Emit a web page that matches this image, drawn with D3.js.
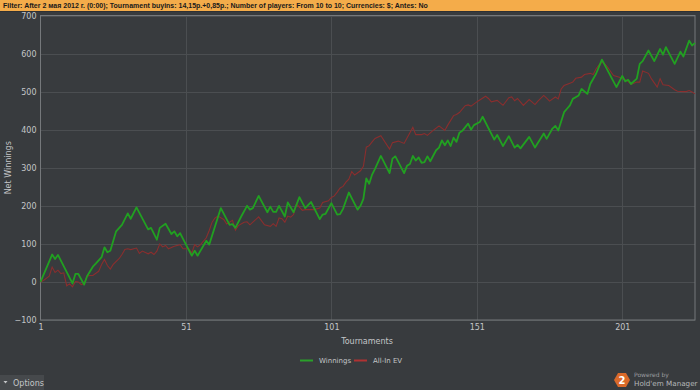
<!DOCTYPE html>
<html><head><meta charset="utf-8">
<script src="https://cdn.jsdelivr.net/npm/d3@7"></script>
<style>
html,body{margin:0;padding:0;background:#383b3e;}
svg{display:block;font-family:"DejaVu Sans",sans-serif;}
</style></head>
<body>
<script>
// ---- data (vertices) ----
const winT = [1,5,6,7,12,13,14,16,17,19,20,22,23,24,25,27,29,31,32,34,38,39,41,42,44,46,47,48,49,50,53,54,55,58,59,63,66,67,68,70,72,73,74,76,79,80,81,82,83,85,86,88,90,92,94,97,98,99,101,103,104,105,107,110,111,112,113,114,115,116,118,121,122,123,126,127,128,129,130,131,132,133,134,135,137,138,139,140,141,142,143,144,145,146,148,149,150,152,153,157,158,160,162,164,165,166,169,171,174,175,177,178,179,181,182,183,184,186,187,189,190,192,194,199,201,202,203,204,206,207,208,210,212,214,215,216,219,221,222,224,225,226];
const winV = [0,72,60,71,-4,21,21,-7,15,40,48,65,91,78,82,133,150,180,166,196,138,142,111,142,153,126,133,120,128,113,69,82,69,108,98,194,150,152,142,172,200,190,194,226,183,198,184,184,200,172,209,183,223,194,210,165,177,179,207,177,178,192,235,190,200,218,272,258,282,297,331,286,324,330,286,305,310,331,319,327,313,315,330,317,346,353,372,359,372,357,379,368,392,397,416,400,412,420,434,374,386,357,383,353,360,351,381,353,390,376,403,410,398,446,455,464,481,490,507,494,520,547,584,512,541,527,531,520,534,573,580,608,580,612,597,617,573,605,592,634,621,628];
const evT = [1,2,4,5,6,7,8,9,10,11,12,13,14,15,16,17,18,19,21,22,23,24,25,26,28,29,30,31,32,34,35,36,38,39,40,41,42,43,44,45,47,49,50,52,53,54,55,56,58,59,60,61,62,64,65,67,68,69,71,72,73,76,78,80,81,82,83,84,85,86,87,88,89,91,92,95,97,98,100,101,102,103,104,105,106,107,108,109,111,112,113,114,115,116,118,121,122,124,126,127,129,130,132,133,134,136,138,140,141,143,144,145,147,148,149,151,152,154,155,156,158,160,162,163,164,165,167,169,171,172,174,175,176,178,179,180,181,183,184,185,187,188,190,191,192,193,194,195,196,197,198,200,202,203,204,206,207,208,210,211,213,214,215,217,219,220,222,223,224,225,226];
const evV = [0,4,15,39,25,31,22,24,-10,-5,-13,1,0,-7,-4,15,17,17,28,46,59,43,34,46,61,72,85,87,85,89,75,81,74,78,72,81,100,92,96,87,94,98,87,87,76,98,92,98,116,135,157,168,173,164,152,162,136,148,157,158,150,171,150,146,153,146,168,166,157,173,170,177,205,188,190,190,194,209,213,222,226,236,247,251,262,270,290,281,292,304,354,358,368,377,384,349,366,370,364,378,406,387,387,390,385,398,410,398,412,437,440,445,463,465,462,473,478,488,482,473,477,464,484,486,476,482,464,479,466,475,490,483,475,486,481,507,516,522,525,535,538,545,548,545,560,570,577,573,564,553,542,538,531,527,519,525,525,554,548,534,512,534,518,516,505,501,500,500,503,499,494];
const seriesNames = ["Winnings","All-In EV"];
const xTicks = [1,51,101,151,201];
const yTicks = [-100,0,100,200,300,400,500,600,700];
const filterText = "Filter: After 2 мая 2012 г. (0:00); Tournament buyins: 14,15р.+0,85р.; Number of players: From 10 to 10; Currencies: $; Antes: No";

const W = 700, H = 390;
const m = {l:40.5, r:5, t:15.5, b:70};
const svg = d3.select("body").append("svg").attr("width",W).attr("height",H);
svg.append("rect").attr("width",W).attr("height",H).attr("fill","#383b3e");

// filter bar
svg.append("rect").attr("x",0).attr("y",0).attr("width",W).attr("height",11).attr("fill","#f4ac4a");
svg.append("rect").attr("x",0).attr("y",11).attr("width",W).attr("height",1).attr("fill","#2e3033");
svg.append("text").attr("x",3).attr("y",8.3).attr("font-size",7.0).attr("font-weight","bold")
  .attr("font-family","'Liberation Sans',sans-serif").attr("fill","#1a1a1a").text(filterText);

const x = d3.scaleLinear().domain([1,226]).range([m.l, W-m.r]);
const y = d3.scaleLinear().domain([-100,700]).range([H-m.b, m.t]);

// grid
const g = svg.append("g");
g.selectAll(".hg").data(yTicks).join("line")
  .attr("x1",m.l).attr("x2",W-m.r).attr("y1",d=>Math.round(y(d))+0.5).attr("y2",d=>Math.round(y(d))+0.5)
  .attr("stroke","#4b4e51").attr("stroke-width",1);
g.selectAll(".vg").data(xTicks.slice(1)).join("line")
  .attr("y1",m.t).attr("y2",H-m.b).attr("x1",d=>Math.round(x(d))+0.5).attr("x2",d=>Math.round(x(d))+0.5)
  .attr("stroke","#4b4e51").attr("stroke-width",1);
// border
svg.append("rect").attr("x",m.l).attr("y",m.t).attr("width",W-m.r-m.l).attr("height",H-m.b-m.t)
  .attr("fill","none").attr("stroke","#75787b").attr("stroke-width",1);

// axes
const yAxis = svg.append("g").attr("transform",`translate(${m.l},0)`)
  .call(d3.axisLeft(y).tickValues(yTicks).tickSize(0).tickPadding(4));
const xAxis = svg.append("g").attr("transform",`translate(0,${H-m.b})`)
  .call(d3.axisBottom(x).tickValues(xTicks).tickSize(0).tickPadding(4));
[yAxis,xAxis].forEach(a=>{
  a.select(".domain").remove();
  a.selectAll("text").attr("fill","#c4c6c8").attr("font-size",8).attr("font-family","'DejaVu Sans',sans-serif");
});

svg.append("text").attr("transform",`translate(11,${(m.t+H-m.b)/2}) rotate(-90)`).attr("text-anchor","middle")
  .attr("font-size",8).attr("fill","#c4c6c8").text("Net Winnings");
svg.append("text").attr("x",367).attr("y",344).attr("text-anchor","middle")
  .attr("font-size",8).attr("fill","#c4c6c8").text("Tournaments");

// lines
const line = d3.line().x(d=>x(d[0])).y(d=>y(d[1]));
const evData = d3.zip(evT, evV);
const winData = d3.zip(winT, winV);
svg.append("path").datum(evData).attr("d",line).attr("fill","none").attr("stroke","#8a2e2e").attr("stroke-width",1.1);
svg.append("path").datum(winData).attr("d",line).attr("fill","none").attr("stroke","#21a021").attr("stroke-width",1.8).attr("stroke-linejoin","round");

// legend
const legend = [{n:seriesNames[0],c:"#2aa02a",x:300},{n:seriesNames[1],c:"#b03232",x:354}];
legend.forEach(l=>{
  svg.append("line").attr("x1",l.x).attr("x2",l.x+13).attr("y1",360.5).attr("y2",360.5).attr("stroke",l.c).attr("stroke-width",2);
  svg.append("text").attr("x",l.x+19).attr("y",363).attr("font-size",7).attr("fill","#c4c6c8").text(l.n);
});

// options button
svg.append("rect").attr("x",0).attr("y",375).attr("width",44).attr("height",15).attr("fill","#46494c");
svg.append("path").attr("d","M3.5,381 L7.5,381 L5.5,383.5 Z").attr("fill","#c4c6c8");
svg.append("text").attr("x",13).attr("y",386).attr("font-size",8).attr("fill","#c4c6c8").text("Options");

// logo
const hx=622, hy=380, hr=8;
const hex = d3.range(6).map(i=>{const a=Math.PI/3*i; return [hx+hr*Math.cos(a), hy+hr*Math.sin(a)];});
svg.append("path").attr("d","M"+hex.join("L")+"Z").attr("fill","#d9692a");
svg.append("text").attr("x",hx).attr("y",hy+3.5).attr("text-anchor","middle").attr("font-size",10).attr("font-weight","bold").attr("fill","#fff").text("2");
svg.append("text").attr("x",634).attr("y",377).attr("font-size",6).attr("fill","#9a9c9e").text("Powered by");
svg.append("text").attr("x",634).attr("y",386).attr("font-size",7.2).attr("fill","#b4b6b8").text("Hold'em Manager");
</script>
</body></html>
